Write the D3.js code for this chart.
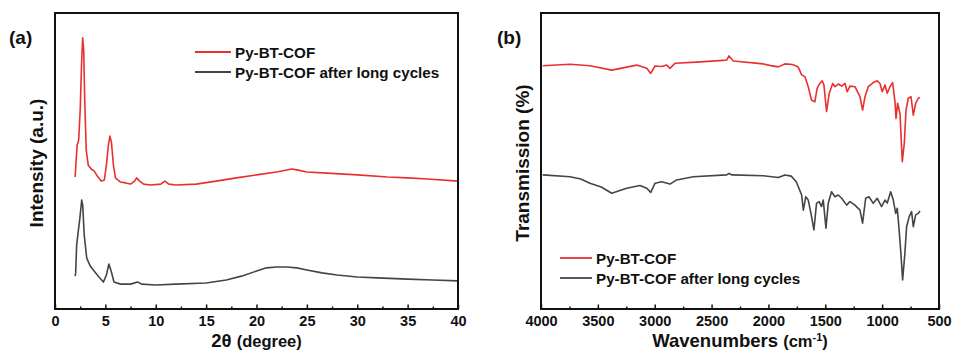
<!DOCTYPE html>
<html lang="en">
<head>
<meta charset="utf-8">
<title>XRD and FTIR</title>
<script src="https://cdn.jsdelivr.net/npm/d3@7"></script>
<style>
body { margin: 0; background: #fff; }
text { font-family: "Liberation Sans", Arial, sans-serif; font-weight: bold; fill: #111; }
.frame { fill: none; stroke: #111; stroke-width: 2; }
.trace { fill: none; stroke-width: 1.6; stroke-linejoin: round; }
</style>
</head>
<body>
<script>

// XRD (panel a): 2theta (degree) vs intensity (a.u.)
var xrdTheta = [2.0, 2.1, 2.2, 2.35, 2.5, 2.65, 2.75, 2.85, 2.95, 3.1, 3.3, 3.6, 3.9, 4.2, 4.6, 4.9, 5.1, 5.3, 5.45, 5.6, 5.8, 6.0, 6.5, 7.0, 7.5, 7.9, 8.1, 8.4, 8.8, 9.5, 10.5, 10.9, 11.3, 12, 14, 16, 18, 20, 22, 23.5, 24, 25, 27, 30, 33, 35, 37, 40];
var xrdFresh = [44.6, 50.3, 55.4, 57.1, 67.2, 84.1, 91.6, 87.5, 70.6, 53.7, 48.6, 47.3, 46.6, 44.9, 43.2, 43.6, 48.6, 55.4, 58.4, 56.4, 48.6, 44.3, 42.9, 42.6, 42.2, 43.2, 44.3, 43.2, 42.2, 41.9, 42.2, 43.2, 42.2, 41.9, 42.2, 43.2, 44.3, 45.3, 46.3, 47.3, 47.0, 46.3, 45.9, 45.3, 44.6, 44.3, 43.9, 43.2];

var xrdThetaCyc = [2.0, 2.05, 2.15, 2.3, 2.45, 2.65, 2.75, 2.9, 3.15, 3.5, 3.8, 4.3, 4.8, 5.1, 5.35, 5.6, 5.85, 6.5, 7.5, 8.2, 8.6, 10, 12, 15, 17, 18.5, 20, 21, 22, 23, 24, 25, 26.5, 28, 30, 32, 35, 37.5, 40];
var xrdCycled = [11.1, 12.2, 21.6, 26.0, 30.1, 36.8, 35.1, 25.0, 17.2, 14.5, 13.2, 11.1, 9.1, 11.5, 15.2, 12.5, 9.1, 8.4, 8.4, 9.1, 8.4, 8.1, 8.4, 8.8, 9.8, 11.1, 12.8, 13.9, 14.2, 14.2, 13.9, 13.2, 12.2, 11.5, 10.8, 10.5, 10.1, 9.8, 9.5];

// FTIR (panel b): wavenumber (cm-1) vs transmission (offset, a.u.)
var irWaveFresh = [3985, 3745, 3570, 3378, 3158, 3070, 3035, 2997, 2939, 2895, 2866, 2822, 2631, 2400, 2367, 2347, 2309, 2045, 1990, 1913, 1855, 1790, 1755, 1738, 1708, 1679, 1650, 1621, 1592, 1571, 1548, 1527, 1512, 1489, 1465, 1435, 1415, 1386, 1356, 1327, 1307, 1283, 1239, 1210, 1195, 1172, 1151, 1122, 1078, 1043, 1019, 999, 975, 955, 931, 908, 887, 878, 864, 843, 823, 805, 790, 770, 746, 726, 705, 682, 667];
var irFresh = [82.2, 82.7, 82.2, 80.7, 82.4, 81.3, 79.6, 82.1, 81.9, 82.4, 81.3, 83.0, 83.4, 84.0, 84.1, 85.5, 83.8, 82.8, 82.3, 81.8, 82.8, 82.6, 82.1, 81.7, 79.1, 78.5, 75.1, 70.6, 70.0, 74.6, 76.2, 77.1, 75.7, 66.7, 72.9, 76.2, 75.1, 76.0, 75.3, 76.2, 73.4, 75.3, 75.1, 72.9, 71.7, 67.2, 71.7, 75.1, 76.5, 77.1, 76.2, 73.4, 75.7, 72.9, 75.1, 76.5, 70.0, 64.4, 69.5, 66.1, 49.8, 56.0, 67.2, 71.2, 71.7, 65.5, 69.5, 71.2, 71.5];

var irWaveCyc = [3985, 3745, 3650, 3570, 3470, 3378, 3247, 3130, 3070, 3035, 2997, 2939, 2866, 2807, 2661, 2367, 2347, 2320, 2045, 1913, 1855, 1800, 1755, 1708, 1693, 1672, 1650, 1626, 1600, 1577, 1554, 1533, 1518, 1494, 1474, 1445, 1415, 1386, 1356, 1312, 1283, 1239, 1195, 1172, 1145, 1116, 1078, 1043, 1005, 975, 955, 925, 902, 881, 867, 853, 835, 820, 800, 785, 762, 741, 726, 705, 682, 667];
var irCycled = [45.3, 44.7, 43.9, 42.5, 41.2, 39.1, 40.8, 41.7, 40.8, 39.4, 42.5, 43.0, 42.2, 43.6, 44.7, 45.3, 45.8, 45.3, 45.0, 44.4, 45.3, 44.9, 43.0, 38.5, 33.4, 37.9, 36.8, 32.3, 26.7, 35.7, 36.3, 34.6, 36.8, 27.3, 35.7, 39.6, 37.9, 38.5, 37.4, 35.1, 36.3, 35.1, 33.4, 29.0, 37.4, 37.9, 35.7, 37.4, 34.6, 36.8, 35.8, 39.6, 36.8, 32.3, 34.0, 27.8, 18.8, 9.8, 18.8, 27.8, 31.2, 32.9, 27.8, 31.8, 32.3, 33.1];

var seriesNames = ["Py-BT-COF", "Py-BT-COF after long cycles"];
var seriesColors = ["#e8312f", "#454545"];

var xrdTicks = [0, 5, 10, 15, 20, 25, 30, 35, 40];
var irTicks = [4000, 3500, 3000, 2500, 2000, 1500, 1000, 500];

var w = 953, h = 351;
var plotTop = 13, plotBottom = 309;

var svg = d3.select("body").append("svg")
	.attr("width", w)
	.attr("height", h);

function zip(xs, ys) {
	return xs.map(function(x, i) { return [x, ys[i]]; });
}

function drawPanel(cfg) {
	var g = svg.append("g");

	var xScale = d3.scaleLinear().domain(cfg.xDomain).range([cfg.left, cfg.right]);
	var yScale = d3.scaleLinear().domain([0, 100]).range([plotBottom, plotTop]);

	var line = d3.line()
		.x(function(d) { return xScale(d[0]); })
		.y(function(d) { return yScale(d[1]); });

	// traces
	cfg.series.forEach(function(s, i) {
		g.append("path")
			.attr("class", "trace")
			.attr("stroke", seriesColors[i])
			.attr("d", line(s));
	});

	// minor ticks
	var minor = d3.axisBottom(xScale)
		.tickValues(cfg.minorTicks)
		.tickSize(-2.5)
		.tickFormat("");
	g.append("g")
		.attr("transform", "translate(0," + plotBottom + ")")
		.call(minor)
		.call(function(a) { a.select(".domain").remove(); a.selectAll("line").attr("stroke", "#111").attr("stroke-width", 1.5); });

	// major ticks + labels
	var major = d3.axisBottom(xScale)
		.tickValues(cfg.ticks)
		.tickSize(-4.5)
		.tickPadding(7)
		.tickFormat(d3.format("d"));
	var ax = g.append("g")
		.attr("transform", "translate(0," + plotBottom + ")")
		.call(major);
	ax.select(".domain").remove();
	ax.selectAll("line").attr("stroke", "#111").attr("stroke-width", 1.5);
	ax.selectAll("text")
		.attr("font-size", 14.5)
		.attr("font-family", "'Liberation Sans', Arial, sans-serif")
		.attr("font-weight", "bold")
		.attr("fill", "#111")
		.attr("dy", "0.71em");

	// frame
	g.append("rect")
		.attr("class", "frame")
		.attr("x", cfg.left)
		.attr("y", plotTop)
		.attr("width", cfg.right - cfg.left)
		.attr("height", plotBottom - plotTop);

	// axis titles
	var xt = g.append("text")
		.attr("x", (cfg.left + cfg.right) / 2)
		.attr("y", 347)
		.attr("text-anchor", "middle")
		.attr("font-size", 18.5);
	cfg.xTitle(xt);

	g.append("text")
		.attr("transform", "translate(" + cfg.yTitleX + "," + ((plotTop + plotBottom) / 2 + 2) + ") rotate(-90)")
		.attr("text-anchor", "middle")
		.attr("font-size", 19)
		.text(cfg.yTitle);

	// panel label
	g.append("text")
		.attr("x", cfg.tagX)
		.attr("y", 44)
		.attr("font-size", 19)
		.text(cfg.tag);

	// legend
	var lg = g.append("g").attr("transform", "translate(" + cfg.legendX + "," + cfg.legendY + ")");
	seriesNames.forEach(function(name, i) {
		lg.append("line")
			.attr("x1", 0).attr("x2", cfg.legendLine)
			.attr("y1", i * 20).attr("y2", i * 20)
			.attr("stroke", seriesColors[i])
			.attr("stroke-width", 1.8);
		lg.append("text")
			.attr("x", cfg.legendLine + 4)
			.attr("y", i * 20 + 5.5)
			.attr("font-size", 15.2)
			.text(name);
	});
}

drawPanel({
	left: 55, right: 458,
	xDomain: [0, 40],
	ticks: xrdTicks,
	minorTicks: d3.range(2.5, 40, 5),
	series: [zip(xrdTheta, xrdFresh), zip(xrdThetaCyc, xrdCycled)],
	xTitle: function(t) {
		t.append("tspan").text("2θ ");
		t.append("tspan").attr("font-size", 16.5).text("(degree)");
	},
	yTitle: "Intensity (a.u.)",
	yTitleX: 43,
	tag: "(a)",
	tagX: 9,
	legendX: 195, legendY: 52, legendLine: 36
});

drawPanel({
	left: 541, right: 939,
	xDomain: [4000, 500],
	ticks: irTicks,
	minorTicks: d3.range(3750, 500, -500),
	series: [zip(irWaveFresh, irFresh), zip(irWaveCyc, irCycled)],
	xTitle: function(t) {
		t.append("tspan").text("Wavenumbers ");
		t.append("tspan").attr("font-size", 16.5).text("(cm");
		t.append("tspan").attr("font-size", 11).attr("dy", -6).text("-1");
		t.append("tspan").attr("font-size", 16.5).attr("dy", 6).text(")");
	},
	yTitle: "Transmission (%)",
	yTitleX: 529,
	tag: "(b)",
	tagX: 497,
	legendX: 560, legendY: 258, legendLine: 32
});

</script>
</body>
</html>
